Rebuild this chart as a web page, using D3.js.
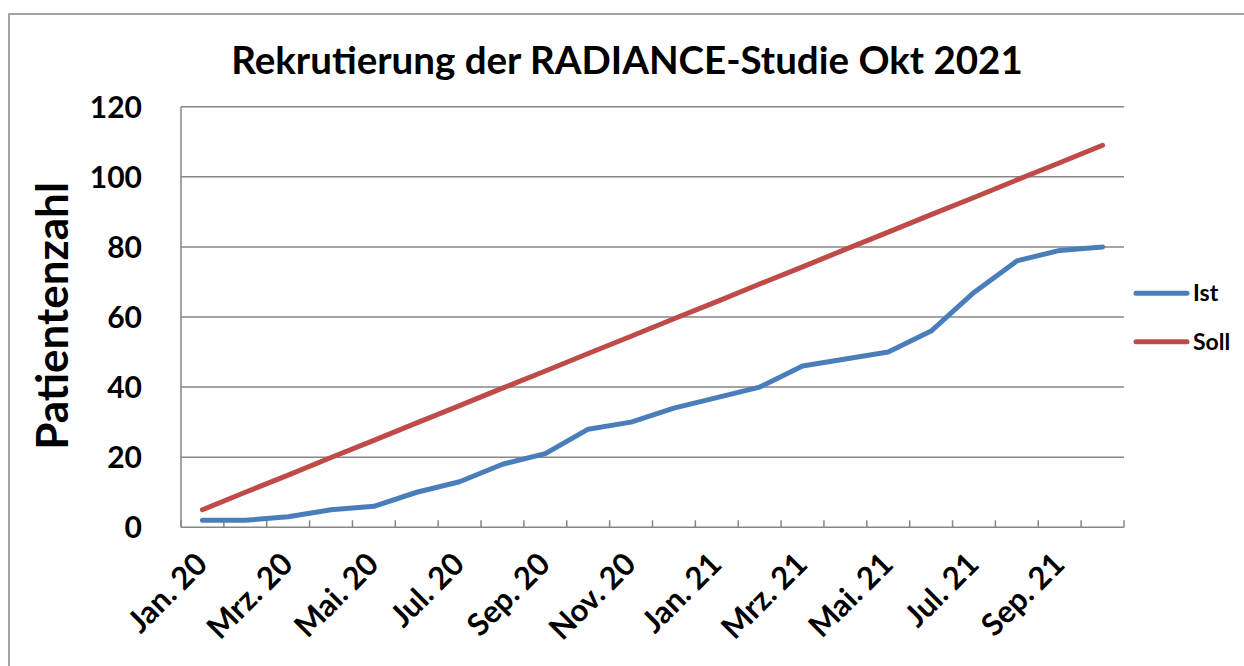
<!DOCTYPE html>
<html>
<head>
<meta charset="utf-8">
<script src="https://cdn.jsdelivr.net/npm/d3@7/dist/d3.min.js"></script>
<style>
  html, body { margin: 0; padding: 0; background: #fff; }
  svg { display: block; }
  text { font-family: Lato, "Open Sans", sans-serif; font-weight: bold; fill: #000; }
</style>
</head>
<body>
<svg id="chart" width="1244" height="666"></svg>
<script>
const months = ["Jan. 20","Feb. 20","Mrz. 20","Apr. 20","Mai. 20","Jun. 20","Jul. 20","Aug. 20","Sep. 20","Okt. 20","Nov. 20","Dez. 20",
                "Jan. 21","Feb. 21","Mrz. 21","Apr. 21","Mai. 21","Jun. 21","Jul. 21","Aug. 21","Sep. 21","Okt. 21"];
const istValues  = [2, 2, 3, 5, 6, 10, 13, 18, 21, 28, 30, 34, 37, 40, 46, 48, 50, 56, 67, 76, 79, 80];
const sollValues = [5, 10, 14.9, 19.9, 24.8, 29.8, 34.7, 39.7, 44.6, 49.6, 54.5, 59.5, 64.4, 69.4, 74.3, 79.3, 84.2, 89.2, 94.1, 99.1, 104, 109];
const xTickLabels = ["Jan. 20","Mrz. 20","Mai. 20","Jul. 20","Sep. 20","Nov. 20","Jan. 21","Mrz. 21","Mai. 21","Jul. 21","Sep. 21"];
const yTicks = [0, 20, 40, 60, 80, 100, 120];
const seriesNames = ["Ist", "Soll"];
const seriesColors = ["#4A7EBB", "#BE4B48"];
const title = "Rekrutierung der RADIANCE-Studie Okt 2021";
const yTitle = "Patientenzahl";

(function () {
const svg = d3.select("#chart");
const pLeft = 181, pRight = 1124, pTop = 106.7, pBottom = 527.3;

// outer chart border
svg.append("rect").attr("x", 9).attr("y", 14).attr("width", 1260).attr("height", 700)
  .attr("fill", "none").attr("stroke", "#868686").attr("stroke-width", 1.5);

const x = d3.scaleBand().domain(months).range([pLeft, pRight]).padding(0);
const y = d3.scaleLinear().domain([0, 120]).range([pBottom, pTop]);
const cx = d => x(d) + x.bandwidth() / 2;

// gridlines
svg.append("g").selectAll("line").data(yTicks.filter(v => v > 0)).join("line")
  .attr("x1", pLeft).attr("x2", pRight)
  .attr("y1", d => y(d)).attr("y2", d => y(d))
  .attr("stroke", "#868686").attr("stroke-width", 1.5);

// y axis labels
const yAxis = d3.axisLeft(y).tickValues(yTicks).tickSize(0).tickPadding(0);
const gy = svg.append("g").attr("transform", `translate(${pLeft - 39},0)`).call(yAxis);
gy.select(".domain").remove();
gy.selectAll("text").style("font-size", "30px").style("font-family", "Lato, sans-serif")
  .style("font-weight", "bold").attr("fill", "#000").attr("dy", "0.35em");

// left axis line
svg.append("line").attr("x1", pLeft).attr("x2", pLeft).attr("y1", pTop).attr("y2", pBottom)
  .attr("stroke", "#868686").attr("stroke-width", 1.5);

// bottom axis with inner ticks at category boundaries
const boundaries = months.map(m => x(m)).concat([pRight]);
svg.append("g").selectAll("line").data(boundaries).join("line")
  .attr("x1", d => d).attr("x2", d => d).attr("y1", pBottom - 7).attr("y2", pBottom)
  .attr("stroke", "#868686").attr("stroke-width", 1.5);
svg.append("line").attr("x1", pLeft).attr("x2", pRight).attr("y1", pBottom).attr("y2", pBottom)
  .attr("stroke", "#868686").attr("stroke-width", 1.5);

// x labels
svg.append("g").selectAll("text").data(xTickLabels).join("text")
  .attr("transform", d => `translate(${cx(d) - 1},${pBottom + 31}) rotate(-45)`)
  .attr("text-anchor", "end").attr("dy", "0.35em")
  .style("font-size", "31px")
  .text(d => d);

// lines
const line = d3.line().x((d, i) => cx(months[i])).y(d => y(d));
[istValues, sollValues].forEach((vals, k) => {
  svg.append("path").datum(vals).attr("d", line)
    .attr("fill", "none").attr("stroke", seriesColors[k]).attr("stroke-width", 5)
    .attr("stroke-linecap", "round").attr("stroke-linejoin", "round");
});

// legend
const legendY = [293.3, 341.7];
seriesNames.forEach((name, k) => {
  svg.append("line").attr("x1", 1136).attr("x2", 1187).attr("y1", legendY[k]).attr("y2", legendY[k])
    .attr("stroke", seriesColors[k]).attr("stroke-width", 5).attr("stroke-linecap", "round");
  svg.append("text").attr("x", 1193).attr("y", legendY[k]).attr("dy", "0.35em")
    .style("font-size", "23px").text(name);
});

// title
svg.append("text").attr("x", 627).attr("y", 74).attr("text-anchor", "middle")
  .style("font-size", "38.5px").text(title);

// y title
svg.append("text").attr("transform", "translate(68,316) rotate(-90)").attr("text-anchor", "middle")
  .style("font-size", "44px").text(yTitle);
})();
</script>
</body>
</html>
